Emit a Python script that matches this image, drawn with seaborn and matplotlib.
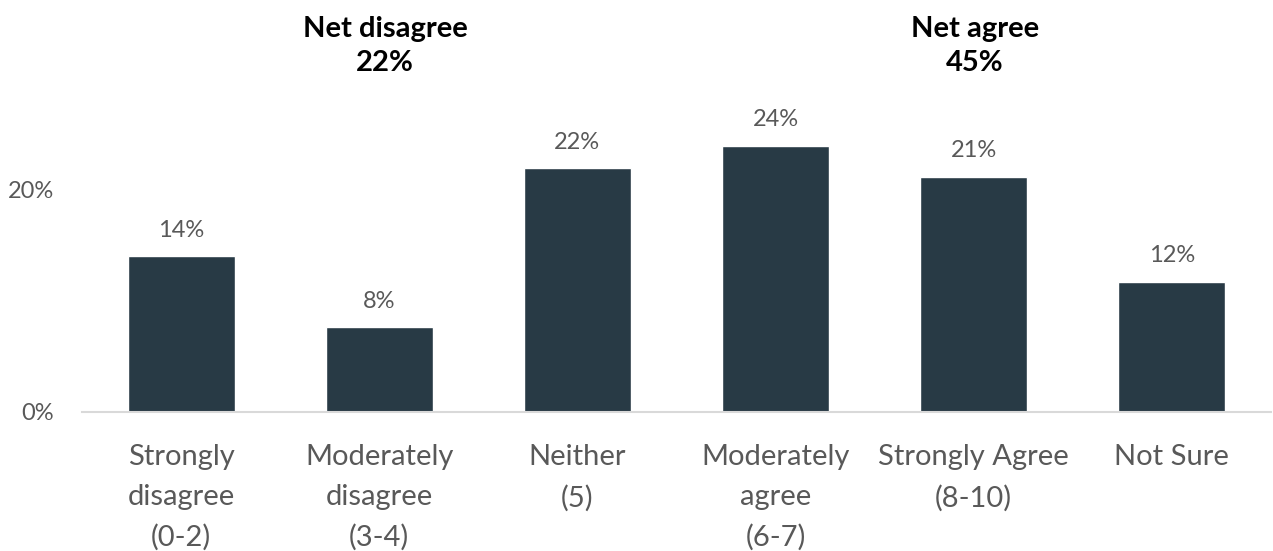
import matplotlib
matplotlib.use("Agg")
import matplotlib.pyplot as plt
import seaborn as sns
import pandas as pd

# Survey responses on a 0-10 agreement scale
categories = [
    "Strongly\ndisagree\n(0-2)",
    "Moderately\ndisagree\n(3-4)",
    "Neither\n(5)",
    "Moderately\nagree\n(6-7)",
    "Strongly Agree\n(8-10)",
    "Not Sure",
]
shares = [14.0, 7.6, 21.9, 23.9, 21.1, 11.7]
net_titles = ["Net disagree", "Net agree"]
net_groups = [[0, 1], [3, 4]]
y_ticks = [0, 20]

bar_color = "#283A45"
text_color = "#595959"

sns.set_theme(style="white")
plt.rcParams["font.family"] = ["Lato", "DejaVu Sans"]

df = pd.DataFrame({"category": categories, "share": shares})

fig = plt.figure(figsize=(12.73, 5.51), dpi=100)
ax = fig.add_axes([82 / 1273, 1 - 412 / 551, (1271 - 82) / 1273, (412 - 100) / 551])

sns.barplot(data=df, x="category", y="share", color=bar_color, width=0.54,
            saturation=1, ax=ax)

ax.set_xlim(-0.5, len(categories) - 0.5)
ax.set_ylim(0, 20 * (412 - 100) / (412 - 189))
ax.set_yticks(y_ticks)
ax.set_yticklabels([f"{t}%" for t in y_ticks], fontsize=17, color=text_color)
ax.tick_params(axis="y", length=0, pad=20)
ax.tick_params(axis="x", length=0, pad=23, labelsize=21, labelcolor=text_color)
ax.set_xlabel("")
ax.set_ylabel("")
for lbl in ax.get_xticklabels():
    lbl.set_linespacing(1.66)

for side in ["top", "right", "left"]:
    ax.spines[side].set_visible(False)
ax.spines["bottom"].set_color("#D9D9D9")
ax.spines["bottom"].set_linewidth(1.5)

for i, v in enumerate(shares):
    ax.annotate(f"{round(v):.0f}%", (i, v), xytext=(0, 11), textcoords="offset points",
                ha="center", va="bottom", fontsize=17, color=text_color)

# Net totals above the chart
title_x = [385 / 1273, 975 / 1273]
for name, grp, tx in zip(net_titles, net_groups, title_x):
    total = round(sum(shares[g] for g in grp))
    fig.text(tx, 1 - 46 / 551, f"{name}\n{total}%", ha="center", va="center",
             fontsize=21, fontweight="bold", color="black", linespacing=1.4)

fig.savefig("out.png", dpi=100, facecolor="white")
